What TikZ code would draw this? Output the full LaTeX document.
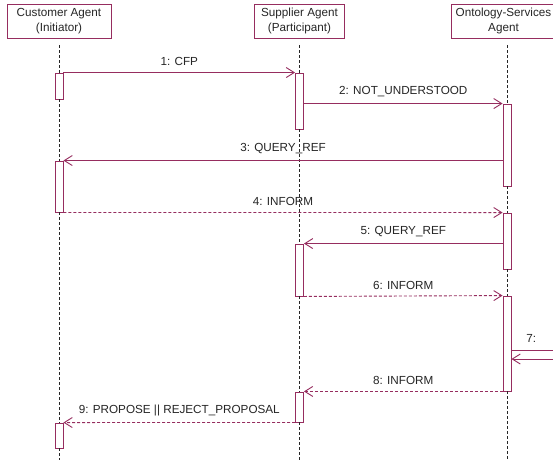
\documentclass[tikz,border=0pt]{standalone}
\usepackage{fontspec}
\setmainfont{Liberation Sans}
\usetikzlibrary{arrows.meta,calc}
\definecolor{umlc}{RGB}{150,45,95}
\begin{document}
\begin{tikzpicture}[x=1pt,y=-1pt,
  head/.style={draw=umlc, line width=0.9pt, fill=white, align=center, inner sep=0pt,
    font=\fontsize{11.7}{15}\selectfont, minimum height=34pt, text=black!85},
  act/.style={draw=umlc, line width=0.9pt, fill=white, minimum width=8pt, inner sep=0pt},
  life/.style={draw=black!85, dash pattern=on 3pt off 2pt, line width=0.7pt},
  msg/.style={draw=umlc, line width=0.9pt, -{Straight Barb[length=8pt,width=10pt]}},
  reply/.style={msg, dash pattern=on 3pt off 2pt},
  lbl/.style={font=\fontsize{11.7}{13}\selectfont, inner sep=0pt, text=black!85}]
\useasboundingbox[fill=white] (0,0) rectangle (553,459);
\clip (0,0) rectangle (553,459);
% heads
\node[head, minimum width=104pt] (ch) at (59,21) {Customer Agent\\(Initiator)};
\node[head, minimum width=90pt] (sh) at (299.5,21) {Supplier Agent\\(Participant)};
\node[head, minimum width=104pt] (oh) at (503.5,21) {Ontology-Services\\Agent};
\coordinate (bot) at (0,462);
% activations
\node[act, minimum height=26pt] (c1) at (59,86) {};
\node[act, minimum height=56pt] (s1) at (299.5,101) {};
\node[act, minimum height=82pt] (o1) at (507,145) {};
\node[act, minimum height=51pt] (c2) at (59,186.5) {};
\node[act, minimum height=56pt] (o2) at (507,241) {};
\node[act, minimum height=52pt] (s2) at (299.5,270) {};
\node[act, minimum height=95pt] (o3) at (507,343.5) {};
\node[act, minimum height=30pt] (s3) at (299.5,407) {};
\node[act, minimum height=25pt] (c3) at (59,435.5) {};
% lifelines (behind activations)
\begin{scope}[on background layer/.try]
\end{scope}
\draw[life] ([yshift=-7pt]ch.south) -- (c1.north);
\draw[life] (c1.south) -- (c2.north);
\draw[life] (c2.south) -- (c3.north);
\draw[life] (c3.south) -- (c3.south |- bot);
\draw[life] ([yshift=-7pt]sh.south) -- (s1.north);
\draw[life] (s1.south) -- (s2.north);
\draw[life] (s2.south) -- (s3.north);
\draw[life] (s3.south) -- (s3.south |- bot);
\draw[life] (o1.north |- oh.south) ++(0,7) -- (o1.north);
\draw[life] (o1.south) -- (o2.north);
\draw[life] (o2.south) -- (o3.north);
\draw[life] (o3.south) -- (o3.south |- bot);
% messages
\draw[msg] (c1.north east) -- node[lbl, above=6pt] {1: CFP} (s1.north west);
\draw[msg] (s1.east |- o1.north) -- node[lbl, above=6pt] {2: NOT\_UNDERSTOOD} (o1.north west);
\draw[msg] (o1.west |- c2.north) -- node[lbl, above=6pt] {3: QUERY\_REF} (c2.north east);
\draw[reply] (c2.south east) -- node[lbl, above=6pt] {4: INFORM} (o2.north west);
\draw[msg] (o2.west |- s2.north) -- node[lbl, above=6pt] {5: QUERY\_REF} (s2.north east);
\draw[reply] (s2.south east) -- node[lbl, above=6pt] {6: INFORM} (o3.north west);
\coordinate (y7a) at (0,350);
\coordinate (y7b) at (0,359);
\draw[msg] (o3.east |- y7a) -- node[lbl, pos=0.33, above=7pt] {7:} ++(60,0) |- (o3.east |- y7b);
\draw[reply] (o3.south west) -- node[lbl, above=6pt] {8: INFORM} (s3.east |- o3.south);
\draw[reply] (s3.south west) -- node[lbl, above=6pt] {9: PROPOSE || REJECT\_PROPOSAL} (c3.north east);
\end{tikzpicture}
\end{document}
